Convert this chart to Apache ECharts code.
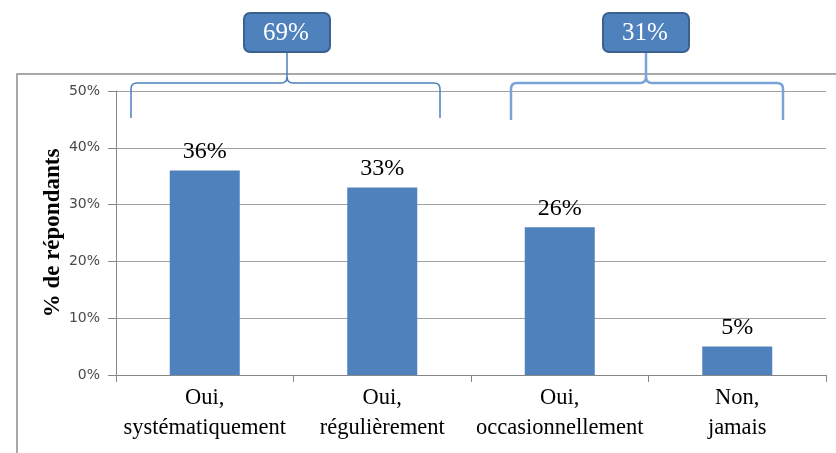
<!DOCTYPE html>
<html><head><meta charset="utf-8">
<script src="https://cdn.jsdelivr.net/npm/echarts@6/dist/echarts.min.js"></script>
<style>html,body{margin:0;padding:0;background:#fff}#c{width:836px;height:453px}</style>
</head><body><div id="c"></div>
<script>
const categories = ['Oui,\nsystématiquement', 'Oui,\nrégulièrement', 'Oui,\noccasionnellement', 'Non,\njamais'];
const values = [36, 33, 26, 5];
const yTicks = [0, 10, 20, 30, 40, 50];
const groupA = [0, 1];
const groupB = [2, 3];
const totalA = groupA.reduce((s, i) => s + values[i], 0);
const totalB = groupB.reduce((s, i) => s + values[i], 0);

const serif = '"Liberation Serif", "Times New Roman", serif';
const chart = echarts.init(document.getElementById('c'), null, {renderer: 'canvas'});

function brace(x1, x2, xm, yTop, yBot, yStem, color, lw) {
  const r = 6;
  const st = {fill: 'none', stroke: color, lineWidth: lw};
  const L = (a, b, c, d) => ({type: 'line', z: 10, silent: true, shape: {x1: a, y1: b, x2: c, y2: d}, style: st});
  const C = (a, b, cx, cy, c, d) => ({type: 'bezierCurve', z: 10, silent: true,
    shape: {x1: a, y1: b, cpx1: cx, cpy1: cy, x2: c, y2: d}, style: st});
  return [
    L(x1, yBot, x1, yTop + r),
    C(x1, yTop + r, x1, yTop, x1 + r, yTop),
    L(x1 + r, yTop, xm - r, yTop),
    C(xm - r, yTop, xm, yTop, xm, yTop - r),
    L(xm, yTop - r, xm, yStem),
    C(xm, yTop - r, xm, yTop, xm + r, yTop),
    L(xm + r, yTop, x2 - r, yTop),
    C(x2 - r, yTop, x2, yTop, x2, yTop + r),
    L(x2, yTop + r, x2, yBot)
  ];
}

function box(cx, label) {
  return [
    {type: 'rect', z: 20, shape: {x: cx - 43, y: 13, width: 86, height: 39, r: 6},
     style: {fill: '#4f81bd', stroke: '#3b6190', lineWidth: 2}},
    {type: 'text', z: 21, style: {x: cx - 1, y: 33, text: label, fill: '#ffffff', font: '25px ' + serif,
     align: 'center', verticalAlign: 'middle'}}
  ];
}

chart.setOption({
  animation: false,
  grid: {left: 116, right: 10, top: 91, bottom: 78},
  xAxis: {
    type: 'category', data: categories, boundaryGap: true,
    axisLine: {lineStyle: {color: '#868686', width: 1}},
    axisTick: {show: true, length: 7, lineStyle: {color: '#868686'}},
    axisLabel: {fontFamily: serif, fontSize: 22.5, color: '#000', lineHeight: 30, margin: 8, interval: 0}
  },
  yAxis: {
    type: 'value', min: 0, max: 50, interval: 10,
    name: '% de répondants', nameLocation: 'middle', nameGap: 51, nameMoveOverlap: false,
    nameTextStyle: {fontFamily: serif, fontSize: 23, fontWeight: 'bold', color: '#000'},
    axisLine: {show: true, lineStyle: {color: '#868686'}},
    axisTick: {show: true, length: 8, lineStyle: {color: '#868686'}},
    axisLabel: {formatter: v => yTicks.includes(v) ? v + '%' : '', fontFamily: '"DejaVu Sans", sans-serif',
      fontSize: 14, color: '#4a4a4a', margin: 16},
    splitLine: {show: true, lineStyle: {color: '#a0a0a0', width: 1}}
  },
  series: [{
    type: 'bar', data: values, barWidth: 70,
    itemStyle: {color: '#4f81bd'},
    label: {show: true, position: 'top', distance: 7, formatter: p => p.value + '%',
      fontFamily: serif, fontSize: 24, color: '#000'}
  }],
  graphic: [
    {type: 'rect', z: 1, silent: true, shape: {x: 17, y: 74, width: 900, height: 500},
     style: {fill: 'none', stroke: '#8c8c8c', lineWidth: 1.5}}
  ].concat(
    brace(131, 440, 287, 83, 118, 52, '#4a7ebb', 1.5),
    brace(511, 783, 646, 83, 120, 52, '#7aa3d9', 2.5),
    box(287, totalA + '%'), box(646, totalB + '%'))
});
</script></body></html>
